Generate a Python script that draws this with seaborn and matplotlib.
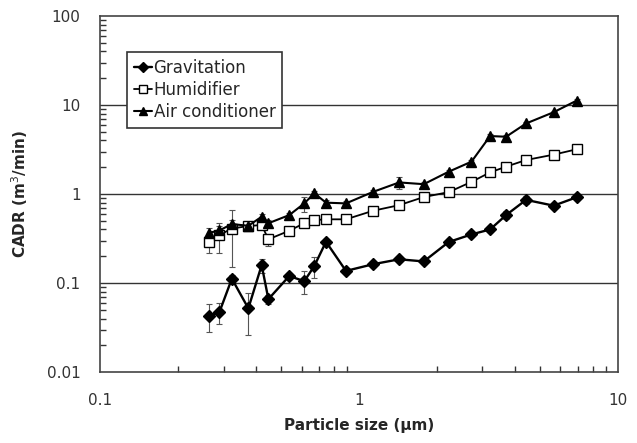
import numpy as np
import matplotlib
matplotlib.use('Agg')
import matplotlib.pyplot as plt
import matplotlib.ticker as mticker
import pandas as pd
import seaborn as sns

# particle size (um), shared by all three series
size = [0.264, 0.289, 0.323, 0.374, 0.421, 0.447, 0.538, 0.615, 0.672, 0.746,
        0.891, 1.136, 1.43, 1.78, 2.22, 2.72, 3.21, 3.70, 4.42, 5.65, 6.93]

gravitation = [0.043, 0.047, 0.112, 0.052, 0.159, 0.066, 0.12, 0.105, 0.155, 0.291,
               0.137, 0.163, 0.185, 0.175, 0.289, 0.352, 0.40, 0.58, 0.86, 0.74, 0.92]
gravitation_err = [0.015, 0.012, 0.01, 0.026, 0.028, 0.008, 0.01, 0.03, 0.04, 0.02,
                   0.008, 0.01, 0.01, 0.01, 0.02, 0.02, 0.03, 0.06, 0.08, 0.04, 0.05]

humidifier = [0.286, 0.346, 0.41, 0.437, 0.449, 0.31, 0.387, 0.47, 0.51, 0.52,
              0.52, 0.65, 0.75, 0.925, 1.05, 1.37, 1.75, 2.03, 2.41, 2.77, 3.18]
humidifier_err = [0.07, 0.13, 0.26, 0.03, 0.03, 0.05, 0.03, 0.03, 0.03, 0.02,
                  0.02, 0.03, 0.03, 0.03, 0.04, 0.05, 0.06, 0.06, 0.08, 0.08, 0.1]

air_cond = [0.367, 0.39, 0.46, 0.44, 0.556, 0.47, 0.58, 0.785, 1.02, 0.80,
            0.785, 1.06, 1.35, 1.29, 1.78, 2.31, 4.48, 4.4, 6.2, 8.3, 11.2]
air_cond_err = [0.05, 0.05, 0.05, 0.04, 0.04, 0.04, 0.04, 0.15, 0.05, 0.05,
                0.04, 0.06, 0.2, 0.06, 0.08, 0.1, 0.3, 0.2, 0.3, 0.3, 0.4]

sns.set_style('white')
plt.rcParams['font.family'] = ['DejaVu Sans']

fig = plt.figure(figsize=(6.37, 4.43), dpi=100)
ax = fig.add_axes([0.157, 0.160, 0.813, 0.804])

series = [
    ('Gravitation', gravitation, gravitation_err, 'D', 'black', 6.3, 1.7),
    ('Humidifier', humidifier, humidifier_err, 's', 'white', 6.5, 1.3),
    ('Air conditioner', air_cond, air_cond_err, '^', 'black', 6.5, 1.5),
]

for name, vals, err, mk, fc, ms, lw in series:
    df = pd.DataFrame({'size': size, 'cadr': vals})
    ax.errorbar(size, vals, yerr=err, fmt='none', ecolor='#555555',
                elinewidth=0.8, capsize=2.5, capthick=0.8, zorder=2)
    sns.lineplot(data=df, x='size', y='cadr', ax=ax, sort=False, estimator=None,
                 color='black', lw=lw, marker=mk, markersize=ms,
                 markerfacecolor=fc, markeredgecolor='black', markeredgewidth=1.0,
                 label=name, zorder=3)

ax.set_xscale('log')
ax.set_yscale('log')
ax.set_xlim(0.1, 10)
ax.set_ylim(0.01, 100)

ax.xaxis.set_major_locator(mticker.LogLocator(base=10))
ax.yaxis.set_major_locator(mticker.LogLocator(base=10))
ax.xaxis.set_major_formatter(mticker.FuncFormatter(lambda v, p: '%g' % v))
ax.yaxis.set_major_formatter(mticker.FuncFormatter(lambda v, p: '%g' % v))
ax.xaxis.set_minor_locator(mticker.LogLocator(base=10, subs=np.arange(2, 10)))
ax.yaxis.set_minor_locator(mticker.LogLocator(base=10, subs=np.arange(2, 10)))
ax.xaxis.set_minor_formatter(mticker.NullFormatter())
ax.yaxis.set_minor_formatter(mticker.NullFormatter())

for v in [0.1, 1, 10]:
    ax.axhline(v, color='#333333', lw=1.0, zorder=1)

ax.tick_params(which='major', length=0, labelsize=11, labelcolor='#333333')
ax.tick_params(which='minor', direction='in', length=4, width=1, color='#333333',
               bottom=True, left=True, top=False, right=False)
ax.tick_params(axis='x', which='major', pad=15)
ax.tick_params(axis='y', which='major', pad=14)

for sp in ax.spines.values():
    sp.set_color('#444444')
    sp.set_linewidth(1.2)

ax.set_xlabel('Particle size (\u03bcm)', fontsize=11, fontweight='bold', labelpad=7)
ax.set_ylabel('CADR (m$^3$/min)', fontsize=11, fontweight='bold', labelpad=12)

leg = ax.legend(loc='upper left', bbox_to_anchor=(0.052, 0.899), fontsize=12,
                handlelength=1.1, handletextpad=0.1, borderpad=0.4,
                labelspacing=0.25, borderaxespad=0, markerscale=0.85,
                frameon=True, fancybox=False,
                edgecolor='#333333', framealpha=1)
leg.get_frame().set_linewidth(1.2)

fig.savefig('out.png', dpi=100)
